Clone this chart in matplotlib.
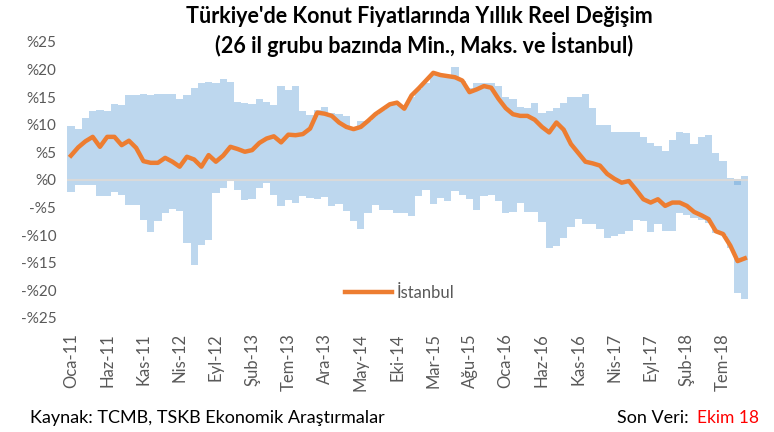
import matplotlib
matplotlib.use('Agg')
import matplotlib.pyplot as plt
import numpy as np

# monthly series, Oca-11 .. Eki-18 (yillik reel degisim, %)
istanbul = [4.4, 5.9, 7.0, 7.8, 6.0, 7.8, 7.8, 6.3, 7.1, 5.8,
            3.4, 3.1, 3.1, 4.0, 3.3, 2.4, 4.2, 3.7, 2.4, 4.5,
            3.3, 4.4, 6.0, 5.6, 5.1, 5.4, 6.7, 7.5, 7.9, 6.8,
            8.2, 8.1, 8.3, 9.3, 12.2, 12.0, 11.6, 10.4, 9.6, 9.2,
            9.6, 10.7, 11.9, 12.8, 13.7, 14.0, 12.9, 15.3, 16.6, 18.0,
            19.4, 19.0, 18.8, 18.6, 18.0, 15.9, 16.4, 17.0, 16.7, 14.7,
            13.0, 11.9, 11.6, 11.6, 10.9, 9.6, 8.6, 10.4, 9.1, 6.5,
            4.9, 3.3, 3.0, 2.6, 1.1, 0.2, -0.5, -0.2, -1.8, -3.5,
            -4.1, -3.5, -4.7, -4.1, -4.1, -4.7, -5.8, -6.4, -7.1, -9.3,
            -9.8, -11.9, -14.7, -14.2]

maks = [9.7, 9.2, 11.2, 12.4, 12.7, 12.4, 13.8, 13.5, 15.3, 15.4,
        15.6, 15.4, 15.6, 15.6, 15.6, 14.7, 15.3, 16.6, 17.5, 17.8,
        17.5, 18.3, 17.8, 14.2, 14.0, 13.8, 14.7, 14.1, 13.6, 17.1,
        16.2, 17.1, 12.4, 11.8, 12.7, 13.2, 12.2, 11.9, 11.5, 9.0,
        10.6, 10.6, 11.7, 12.6, 13.5, 13.8, 13.2, 15.1, 16.4, 17.6,
        19.2, 18.9, 18.8, 20.4, 18.0, 16.7, 17.6, 17.5, 17.6, 17.0,
        15.0, 14.7, 13.2, 13.0, 14.0, 12.2, 12.4, 13.0, 14.0, 15.0,
        15.0, 15.6, 13.0, 9.9, 9.9, 8.7, 8.7, 8.6, 8.7, 7.7,
        6.6, 6.2, 5.3, 7.2, 8.7, 8.5, 6.5, 7.7, 8.2, 4.8,
        3.4, 0.4, -1.0, 0.7]

mins = [-2.2, -1.0, -1.0, -1.0, -3.0, -3.0, -2.2, -2.8, -4.5, -4.5,
        -7.2, -9.4, -7.5, -6.0, -5.3, -5.6, -11.4, -15.4, -11.7, -10.8,
        -2.4, -1.4, -0.2, -1.9, -3.6, -3.4, -1.5, -0.5, -2.8, -4.8,
        -3.7, -4.1, -2.9, -3.2, -3.4, -3.1, -4.8, -4.3, -5.7, -7.5,
        -8.8, -6.0, -4.6, -5.5, -5.5, -5.9, -5.9, -6.5, -2.9, -1.9,
        -4.3, -3.3, -3.8, -2.0, -2.8, -3.5, -5.5, -3.0, -2.7, -3.8,
        -6.0, -5.8, -4.1, -5.8, -5.8, -7.6, -12.3, -12.0, -10.5, -8.5,
        -7.1, -8.0, -8.0, -8.9, -10.5, -10.1, -9.8, -9.2, -7.3, -7.5,
        -9.5, -7.9, -9.2, -9.2, -6.0, -6.3, -6.9, -7.2, -7.8, -9.6,
        -9.9, -12.4, -20.5, -21.6]

tick_labels = ['Oca-11', 'Haz-11', 'Kas-11', 'Nis-12', 'Eyl-12', 'Şub-13',
               'Tem-13', 'Ara-13', 'May-14', 'Eki-14', 'Mar-15', 'Ağu-15',
               'Oca-16', 'Haz-16', 'Kas-16', 'Nis-17', 'Eyl-17', 'Şub-18',
               'Tem-18']

plt.rcParams['font.family'] = ['Lato', 'DejaVu Sans']

fig = plt.figure(figsize=(7.74, 4.32), dpi=100)
ax = fig.add_axes([0.087, 0.264, 0.880, 0.639])

x = np.arange(len(istanbul))
blue = '#5B9BD5'
ax.bar(x, maks, width=1.0, color=blue, alpha=0.4, linewidth=0, zorder=1)
ax.bar(x, mins, width=1.0, color=blue, alpha=0.4, linewidth=0, zorder=1)
ax.axhline(0, color='#D9D9D9', lw=1.5, zorder=2)
ax.plot(x, istanbul, color='#ED7D31', lw=3.2, solid_joinstyle='round',
        label='İstanbul', zorder=3)

ax.set_xlim(-0.5, len(istanbul) - 0.5)
ax.set_ylim(-25, 25)
yt = np.arange(-25, 26, 5)
ax.set_yticks(yt)
ax.set_yticklabels([('-%' + str(-v)) if v < 0 else ('%' + str(v)) for v in yt],
                   fontsize=11, color='#595959')
ax.set_xticks(np.arange(0, len(istanbul), 5))
ax.set_xticklabels(tick_labels, rotation=90, fontsize=12, color='#595959')
ax.tick_params(axis='x', length=0, pad=11)
ax.tick_params(axis='y', length=0, pad=8)
for s in ax.spines.values():
    s.set_visible(False)

leg = ax.legend(loc='center', bbox_to_anchor=(0.517, 0.322),
                bbox_transform=fig.transFigure, frameon=False,
                fontsize=12, handlelength=2.8, handletextpad=0.3)
for t in leg.get_texts():
    t.set_color('#595959')

fig.text(0.542, 0.961, "Türkiye'de Konut Fiyatlarında Yıllık Reel Değişim",
         ha='center', va='center', fontsize=15.5, fontweight='bold')
fig.text(0.548, 0.897, "(26 il grubu bazında Min., Maks. ve İstanbul)",
         ha='center', va='center', fontsize=15.5, fontweight='bold')

fig.text(0.039, 0.032, 'Kaynak: TCMB, TSKB Ekonomik Araştırmalar',
         ha='left', va='center', fontsize=13)
fig.text(0.797, 0.032, 'Son Veri:', ha='left', va='center', fontsize=13)
fig.text(0.900, 0.032, 'Ekim 18', ha='left', va='center', fontsize=12.5,
         color='#FF0000')

fig.savefig('out.png', dpi=100)
